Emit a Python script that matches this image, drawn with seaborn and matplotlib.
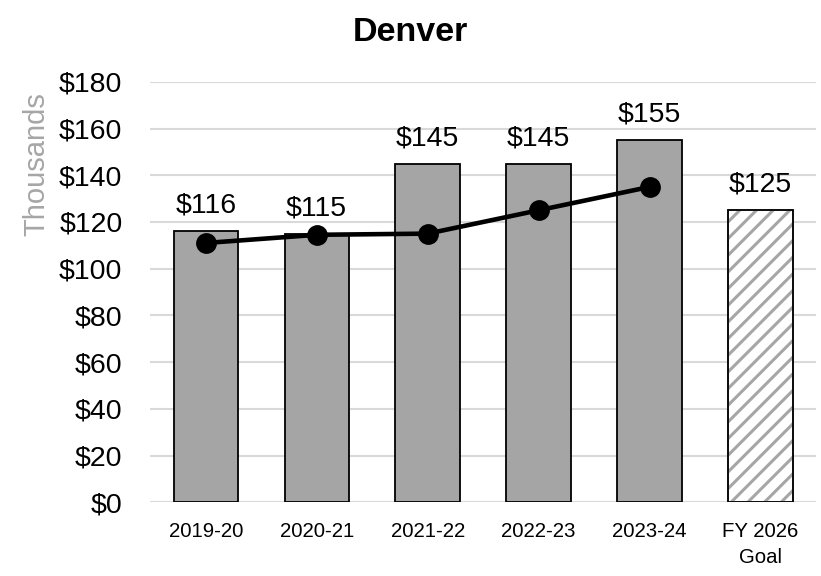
import seaborn as sns
import pandas as pd
import matplotlib.pyplot as plt

years = ['2019-20', '2020-21', '2021-22', '2022-23', '2023-24', 'FY 2026\nGoal']
bar_vals = [116, 115, 145, 145, 155, 125]
line_vals = [111, 114.5, 115, 125, 135]
yticks = [0, 20, 40, 60, 80, 100, 120, 140, 160, 180]

sns.set_theme(style='white')
plt.rcParams['font.family'] = ['Liberation Sans', 'DejaVu Sans']
plt.rcParams['hatch.linewidth'] = 2.2
plt.rcParams['text.color'] = 'black'
plt.rcParams['xtick.color'] = 'black'
plt.rcParams['ytick.color'] = 'black'

df = pd.DataFrame({'year': years, 'value': bar_vals})
ldf = pd.DataFrame({'year': years[:5], 'value': line_vals})

fig = plt.figure(figsize=(8.21, 5.76), dpi=100)
ax = fig.add_axes([0.183, 0.128, 0.811, 0.730])

sns.barplot(data=df, x='year', y='value', color='#a5a5a5', saturation=1,
            width=0.58, edgecolor='black', linewidth=1.3, ax=ax, zorder=2)
# goal bar: grey hatch on white (hatch takes the edge colour)
goal = ax.patches[-1]
goal.set_facecolor('white')
goal.set_hatch('//')
goal.set_edgecolor('#a6a6a6')
# black outline on top of the goal bar
sns.barplot(data=df.tail(1), x='year', y='value', order=years, fill=False,
            width=0.58, color='black', edgecolor='black', linewidth=1.3,
            ax=ax, zorder=3)

sns.pointplot(data=ldf, x='year', y='value', color='black', markersize=12.5,
              linewidth=3.3, ax=ax, zorder=4)

for i, v in enumerate(bar_vals):
    ax.annotate(f'${v}', (i, v), xytext=(0, 9), textcoords='offset points',
                ha='center', va='bottom', fontsize=20.5, color='black')

ax.set_xlim(-0.5, len(years) - 0.5)
ax.set_xticks(range(len(years)), years, fontsize=14.7, linespacing=1.5)
ax.set_ylim(0, 180)
ax.set_yticks(yticks, [f'${t}' for t in yticks], fontsize=20.5)
ax.yaxis.grid(True, color='#d9d9d9', linewidth=1.5, zorder=0)
ax.set_axisbelow(True)
ax.tick_params(axis='y', length=0, pad=20)
ax.tick_params(axis='x', length=0, pad=14)
for s in ax.spines.values():
    s.set_visible(False)
ax.set_xlabel('')
ax.set_ylabel('Thousands', fontsize=21, color='#a6a6a6')
ax.yaxis.set_label_coords(-0.15, 0.805)
fig.suptitle('Denver', fontsize=24.5, fontweight='bold', color='black', y=0.97)

fig.savefig('out.png', dpi=100)
